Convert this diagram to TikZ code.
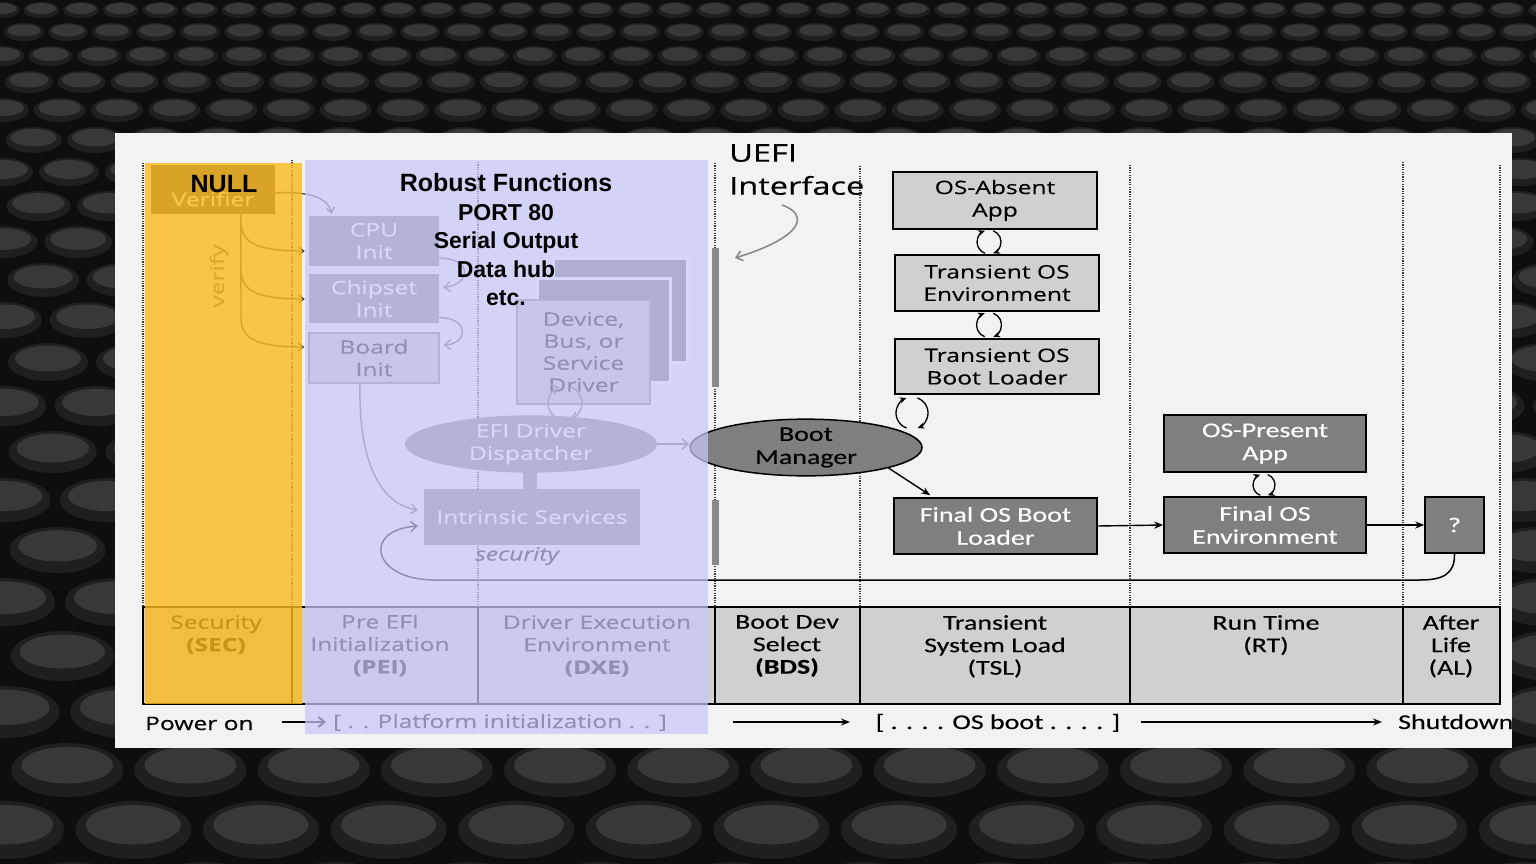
\documentclass[tikz,border=0pt]{standalone}
\usepackage{fontspec}
\setmainfont{Open Sans}[FakeStretch=1.33,FakeBold=0.35]
\newfontfamily\calfont{Carlito}[FakeStretch=1.33,FakeBold=0.3]
\newfontfamily\arlfont{Liberation Sans}
\usetikzlibrary{arrows.meta,calc,shapes.geometric}
\newcommand\fsz[2]{\fontsize{#1}{#2}\selectfont}
\newcommand\cyclearr[3]{%
  \draw[#3] ($(#1)+(250:#2)$) arc[start angle=250,end angle=110,radius=#2];
  \draw[#3] ($(#1)+(70:#2)$) arc[start angle=70,end angle=-70,radius=#2];}
\definecolor{bgd}{HTML}{0E0E0E}
\definecolor{tileA}{HTML}{1F1F1F}
\definecolor{tileB}{HTML}{383838}
\definecolor{panelc}{HTML}{F2F2F2}
\definecolor{lgc}{HTML}{D0D0D0}
\definecolor{dgc}{HTML}{7F7F7F}
\definecolor{vboxc}{HTML}{4D4D4D}
\definecolor{yelc}{RGB}{252,185,30}
\definecolor{lavc}{RGB}{200,200,250}
\definecolor{barc}{HTML}{8A8A8A}
\definecolor{arrgc}{HTML}{606060}
\definecolor{varrc}{HTML}{505050}
\definecolor{dotc}{HTML}{3A3A3A}
\definecolor{devback}{HTML}{6E6E6E}
\definecolor{devfront}{HTML}{C4C4C4}
\definecolor{vfyc}{HTML}{606060}
\begin{document}
\begin{tikzpicture}[x=1pt,y=-1pt,
  lbox/.style={draw=black,line width=1.5pt,fill=lgc,align=center,inner sep=0pt,font={\fsz{18.5}{22.5}}},
  dbox/.style={draw=black,line width=1.5pt,fill=dgc,text=white,align=center,inner sep=0pt,font={\calfont\fsz{21}{23}}},
  pbox/.style={fill=dgc,text=white,align=center,inner sep=0pt,font={\fsz{18.5}{22.5}}},
  arr/.style={-{Stealth[length=9pt,width=7pt]},line width=1.4pt,draw=black},
  sarr/.style={-{Stealth[length=7pt,width=6pt]},line width=1.3pt,draw=black},
  garr/.style={-{Straight Barb[length=6pt,width=10pt]},line width=1.4pt,draw=arrgc},
  varr/.style={-{Straight Barb[length=5pt,width=8pt]},line width=1.4pt,draw=varrc},
  dotv/.style={draw=dotc,line width=2pt,dash pattern=on 1.2pt off 1.2pt},
  ctext/.style={align=center,anchor=north,inner sep=0pt,font={\fsz{18.5}{22.5}}},
  rtext/.style={align=center,anchor=north,inner sep=0pt,font={\calfont\fsz{21}{22.5}}},
  btext/.style={inner sep=0pt,anchor=base,font={\fsz{18.5}{22.5}}},
]
\useasboundingbox (0,0) rectangle (1536,864);
% ---------- background pattern ----------
\fill[bgd] (0,0) rectangle (1536,864);
\foreach \yy/\rx/\ry [count=\k] in {10/18/8,32/20/9,56/22/10,82/24/11,110/26/12,140/28/13,172/30/14,206/32/15,242/34/16,280/36/17,320/38/18,362/40/19,406/42/20,452/44/21,500/46/22,550/48/23,602/50/24,656/52/25,712/54/26,770/56/27,830/58/29,892/60/30}{
  \pgfmathtruncatemacro\n{1536/(2.2*\rx)+2}
  \pgfmathsetmacro\off{mod(\k,2)*1.1*\rx-\rx}
  \foreach \i in {0,...,\n}{
    \pgfmathsetmacro\xx{\i*2.2*\rx+\off}
    \fill[tileA] (\xx,\yy) ellipse [x radius=\rx pt, y radius=\ry pt];
    \fill[tileB] (\xx,\yy-0.18*\ry) ellipse [x radius=0.82*\rx pt, y radius=0.68*\ry pt];
  }
}
% ---------- panel ----------
\fill[panelc] (115,133) rectangle (1512,748);
% dotted phase separators
\foreach \xx/\yt in {143/163,292/160,478/162,715/163,860/166,1130/165,1403/162,1500/165}
  \draw[dotv] (\xx,\yt) -- (\xx,607);
% ---------- phase table ----------
\draw[line width=1.8pt,fill=lgc] (143,607) rectangle (1500,704);
\foreach \xx in {292,478,715,860,1130,1403}
  \draw[line width=1.8pt] (\xx,607) -- (\xx,704);
\node[ctext] (tsec) at (216,615) {Security\\\textbf{(SEC)}};
\node[ctext] (tpei) at (380,615) {Pre EFI\\Initialization\\\textbf{(PEI)}};
\node[ctext] (tdxe) at (597,615) {Driver Execution\\Environment\\\textbf{(DXE)}};
\node[rtext] (tbds) at (787,615) {Boot Dev\\Select\\\textbf{(BDS)}};
\node[rtext] (ttsl) at (995,615) {Transient\\System Load\\(TSL)};
\node[rtext] (trt) at (1266,615) {Run Time\\(RT)};
\node[rtext] (tal) at (1451,615) {After\\Life\\(AL)};
% bottom time line
\node[btext,anchor=base west] (pon) at (145,730) {Power on};
\coordinate (pa1) at (282,722);
\coordinate (pa2) at (326,722);
\draw[garr,draw=black,line width=2pt] (pa1) -- (pa2);
\node[btext] (plat) at (500,728) {[ . . Platform initialization . . ]};
\coordinate (ob1) at (733,722);
\coordinate (ob2) at (850,722);
\draw[arr,line width=2pt] (ob1) -- (ob2);
\node[btext,font={\calfont\fsz{21}{22.5}}] (osb) at (998,729) {[ . . . . OS boot . . . . ]};
\coordinate (sd1) at (1141,722);
\coordinate (sd2) at (1382,722);
\draw[arr,line width=2pt] (sd1) -- (sd2);
\begin{scope}
\clip (115,133) rectangle (1512,748);
\node[btext,anchor=base west,font={\calfont\fsz{21}{22.5}}] (shut) at (1398,729) {Shutdown};
\end{scope}
% ---------- SEC content ----------
\node[fill=vboxc,minimum width=124,minimum height=49,inner sep=0pt] (ver) at (213,189.5) {};
\node[text=white,inner sep=0pt,font={\fsz{18.5}{22.5}}] (vertext) at (213,199) {Verifier};
\node[rotate=90,text=vfyc,inner sep=0pt,font={\fsz{18.5}{22.5}}] (vfy) at (219,276) {verify};
% ---------- PEI content ----------
\node[pbox,minimum width=130,minimum height=50] (cpu) at (374,241) {CPU\\Init};
\node[pbox,minimum width=130,minimum height=49] (chip) at (374,298.5) {Chipset\\Init};
\node[pbox,fill=devfront,draw=dgc,line width=1.5pt,text=black,minimum width=130,minimum height=50] (board) at (374,358) {Board\\Init};
\draw[varr] (ver.east|-0,193) .. controls (310,191) and (328,198) .. ($(cpu.north west)+(23,-2)$);
\draw[varr] ($(ver.south west)+(90,0)$) -- (241,318) .. controls (241,341) and (262,347) .. ($(board.west)+(-4,-11)$);
\draw[varr] (241,222) .. controls (241,245) and (262,251) .. ($(cpu.west)+(-4,10)$);
\draw[varr] (241,270) .. controls (241,293) and (262,299) .. ($(chip.west)+(-4,0.5)$);
\draw[garr] ($(cpu.east)+(0,17)$) .. controls (472,258) and (472,284) .. ($(chip.east)+(4,-11)$);
\draw[garr] ($(chip.east)+(0,19)$) .. controls (470,318) and (468,344) .. ($(board.east)+(4,-13)$);
% ---------- DXE content ----------
\node[fill=devback,draw=white,line width=3pt,minimum width=134,minimum height=104,inner sep=0pt] (dev3) at (620,310) {};
\node[fill=devback,draw=white,line width=3pt,minimum width=133,minimum height=104,inner sep=0pt] (dev2) at (603.5,330) {};
\node[fill=devfront,draw=dgc,line width=1.5pt,minimum width=133,minimum height=104,inner sep=0pt,align=center,font={\fsz{18.5}{22}}] (dev) at (583.5,352) {Device,\\Bus, or\\Service\\Driver};
\coordinate (devloop) at (565,403);
\cyclearr{devloop}{17pt}{garr}
\node[ellipse,fill=dgc,text=white,minimum width=252,minimum height=54,inner sep=0pt,align=center,font={\fsz{18.5}{22.5}}] (efi) at (531,444) {EFI Driver\\Dispatcher};
\node[pbox,minimum width=216,minimum height=56] (intr) at (532,517) {Intrinsic Services};
\fill[dgc] ([xshift=-8pt,yshift=2pt]efi.south) rectangle ([xshift=5pt]intr.north);
\draw[garr] ($(board.south)+(-14,0)$) .. controls (358,470) and (385,505) .. ($(intr.west)+(-6,-7)$);
\node[inner sep=0pt,text=black,font={\itshape\fsz{18.5}{22.5}}] (sec) at (517,556) {security};
% ---------- BDS / TSL / RT / AL ----------
\fill[barc] (712,248) rectangle (719,387);
\fill[barc] (712,500) rectangle (719,565);
\node[anchor=north west,align=left,inner sep=0pt,font={\fsz{24.5}{33}}] (uefi) at (729,144) {UEFI\\Interface};
\coordinate (ua) at (782,205);
\draw[-{Straight Barb[length=6pt,width=10pt]},line width=1.6pt,draw=barc] (ua) .. controls (808,214) and (806,236) .. (735,258);
\node[lbox,minimum width=204,minimum height=57] (osa) at (995,200.5) {OS-Absent\\App};
\node[lbox,minimum width=204,minimum height=56] (toe) at (997,283) {Transient OS\\Environment};
\node[lbox,minimum width=204,minimum height=55] (tobl) at (997,366.5) {Transient OS\\Boot Loader};
\node[ellipse,draw=black,line width=1.5pt,fill=dgc,minimum width=232,minimum height=55,inner sep=0pt,align=center,font={\calfont\fsz{21}{23}}] (bm) at (806,447.5) {Boot\\Manager};
\node[dbox,minimum width=203,minimum height=56] (fobl) at (995.5,526) {Final OS Boot\\Loader};
\node[dbox,minimum width=202,minimum height=57] (osp) at (1265,443.5) {OS-Present\\App};
\node[dbox,minimum width=202,minimum height=56] (foe) at (1265,525) {Final OS\\Environment};
\node[dbox,minimum width=59,minimum height=56] (q) at (1454.5,525) {?};
\coordinate (l1) at (989,242);
\coordinate (l2) at (989,325);
\coordinate (l3) at (912,413);
\coordinate (l4) at (1264,485);
\cyclearr{l1}{12pt}{sarr}
\cyclearr{l2}{12.5pt}{sarr}
\cyclearr{l3}{16pt}{sarr}
\cyclearr{l4}{11pt}{sarr}
\draw[arr] (bm.south east) -- ($(fobl.north west)+(37,-2)$);
\draw[arr] (fobl.east) -- (foe.west);
\draw[arr] (foe.east) -- (q.west);
\draw[garr,draw=arrgc] (efi.east) -- (efi.east -| bm.west);
\draw[-{Straight Barb[length=6pt,width=10pt]},line width=1.5pt,draw=black] (q.south) .. controls (1455,574) and (1443,580) .. (1420,580) -- (433,580) .. controls (372,579) and (362,530) .. ($(intr.west)+(-6,9)$);
% ---------- overlays ----------
\fill[yelc,opacity=.8] (145,163) rectangle (302,704);
\fill[lavc,opacity=.72] (305,160) rectangle (708,734);
% ---------- slide annotations ----------
\node[inner sep=0pt,font={\arlfont\bfseries\fsz{25}{28}}] (null) at (224,184) {NULL};
\node[align=center,inner sep=0pt,font={\arlfont\bfseries\fsz{23}{28.5}}] (rob) at (506,240) {{\fsz{25}{28.5}Robust Functions}\\PORT 80\\Serial Output\\Data hub\\etc.};
\end{tikzpicture}
\end{document}
